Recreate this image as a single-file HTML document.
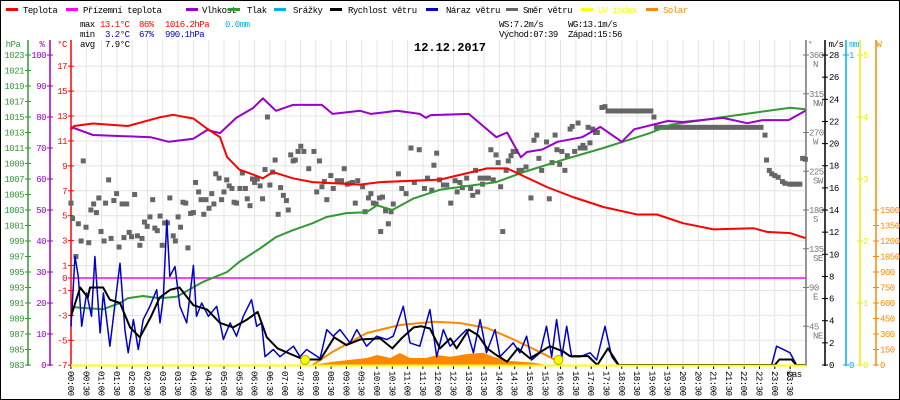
<!DOCTYPE html>
<html><head><meta charset="utf-8">
<style>
html,body{margin:0;padding:0;background:#fff}
svg{display:block}
text{font-family:"Liberation Mono",monospace;font-size:9px;letter-spacing:-0.5px}
</style></head>
<body>
<svg id="chart" width="900" height="400" viewBox="0 0 900 400" xmlns="http://www.w3.org/2000/svg">
<rect x="0.5" y="0.5" width="899" height="399" fill="#fff" stroke="#000"/>
<g id="grid"></g>
<g id="legend"></g>
<g>
<text x="80" y="27" fill="#000">max</text><text x="100" y="27" fill="#f00">13.1°C</text><text x="139" y="27" fill="#f00">86%</text><text x="165" y="27" fill="#f00">1016.2hPa</text><text x="225" y="27" fill="#00b0f0">0.0mm</text>
<text x="80" y="37" fill="#000">min</text><text x="105" y="37" fill="#00c">3.2°C</text><text x="139" y="37" fill="#00c">67%</text><text x="165" y="37" fill="#00c">990.1hPa</text>
<text x="80" y="47" fill="#000">avg</text><text x="105" y="47" fill="#000">7.9°C</text>
<text x="499" y="27" fill="#000">WS:7.2m/s</text><text x="568" y="27" fill="#000">WG:13.1m/s</text>
<text x="499" y="37" fill="#000">Východ:07:39</text><text x="568" y="37" fill="#000">Západ:15:56</text>
</g>
<text x="414" y="51" style="font-size:12px;font-weight:bold;letter-spacing:0">12.12.2017</text>
<g id="axes"></g>
<g id="series"></g>
</svg>
<script>
const NS="http://www.w3.org/2000/svg";
// ---- data ----
const tempT=[0,0.1,0.72,1.86,2.9,3.33,4.0,4.44,4.87,5.1,5.5,5.95,6.27,6.6,7.25,7.9,9.44,10.1,12.06,13.6,14.25,15.55,16.4,17.4,18.5,19.15,20,21,22.3,22.75,23.5,24];
const tempV=[11.9,12.2,12.4,12.2,12.9,13.1,12.8,12.0,11.3,9.7,8.7,8.3,8.0,8.5,8.0,7.7,7.5,7.7,7.9,8.8,8.8,7.3,6.5,5.7,5.1,5.1,4.4,3.9,4.0,3.7,3.6,3.2];
const groundT=[0,24];
const groundV=[0,0];
const humT=[0,0.72,2.6,3.2,4.0,4.45,4.87,5.4,5.95,6.27,6.7,7.25,8.2,8.55,9.45,9.8,10.65,11.4,11.6,11.75,13.0,13.9,14.25,14.7,14.9,15.4,15.9,16.7,17.3,18.0,18.4,19.5,20,21.3,22.1,22.6,23.45,24];
const humV=[76.8,74.2,73.5,72,73,75.8,74.8,79.7,82.9,86,82,83.9,83.9,81,82,81,82,81,79.7,80.6,81,73.5,75,67,68.7,69.5,72,73.5,76.8,72,76,78.7,78.4,79.7,78,79,79,82];
const presT=[0,0.3,1.05,1.6,1.85,2.35,2.9,3.45,4.3,5.1,5.5,6.2,6.7,7.25,7.9,8.35,9.0,9.65,10.0,10.5,11.2,12.05,13.9,14.8,16.1,17.4,18.9,19.6,21.5,23.5,24];
const presV=[990.5,990.4,990.2,991.0,991.6,991.9,991.6,991.8,993.7,995.0,996.3,998.1,999.5,1000.4,1001.3,1002.1,1002.6,1002.7,1003.6,1003.0,1004.5,1005.6,1006.6,1007.9,1009.5,1011.0,1012.9,1014.0,1015.1,1016.2,1016.0];
const windT=[0,0.3,0.55,0.62,1.05,1.27,1.6,1.93,2.25,2.6,2.9,3.25,3.55,3.8,4.0,4.45,4.87,5.3,5.75,6.1,6.4,6.75,7.25,7.6,8.15,8.6,9.0,9.45,10.1,10.5,10.8,11.2,11.45,11.73,12.06,12.4,12.6,13.0,13.3,13.6,13.9,14.25,14.6,15.0,15.65,16.1,16.3,16.9,17.2,17.55,17.9,23.0,23.15,23.55,23.7,24];
const windV=[4.4,7.0,6.1,7.0,7.0,5.9,5.6,3.4,2.5,4.3,6.1,6.8,7.0,6.1,5.4,5.0,3.8,3.4,4.1,4.8,2.5,1.5,0.9,0.5,0.5,2.5,1.8,2.3,2.4,1.5,2.4,3.4,3.5,3.3,1.5,2.4,1.5,3.2,2.7,1.5,0.9,0.3,1.5,0.6,1.7,1.2,0.8,0.8,0,1.5,0,0,0.5,0.5,0,0];
const gustT=[0,0.13,0.24,0.35,0.51,0.67,0.78,0.95,1.06,1.27,1.44,1.6,1.76,1.87,2.04,2.2,2.36,2.58,2.8,2.91,3.02,3.13,3.23,3.4,3.56,3.78,4.0,4.1,4.27,4.49,4.76,4.98,5.2,5.41,5.63,5.9,6.07,6.23,6.34,6.61,6.83,7.27,7.48,7.7,8.14,8.36,8.57,8.79,9.12,9.34,9.66,9.99,10.32,10.53,10.86,11.08,11.4,11.73,11.95,12.17,12.39,12.71,12.93,13.15,13.37,13.58,13.86,14.02,14.45,14.67,14.89,15.05,15.33,15.54,15.71,15.87,16.04,16.2,16.36,16.64,16.96,17.18,17.45,17.67,17.88,22.9,23.06,23.5,23.71,24];
const gustV=[3.5,9.8,8.0,3.5,6.5,4.4,9.8,2.9,6.5,1.7,5.6,9.2,3.2,1.1,4.1,1.4,4.1,5.3,6.8,3.8,6.2,13.1,8.0,8.9,5.3,3.8,9.0,4.4,5.6,4.4,5.3,2.3,3.8,2.6,4.4,5.9,3.5,3.8,0.75,1.4,0.75,1.7,0.75,1.4,0.6,3.2,2.6,3.2,2.0,3.2,1.7,2.6,2.3,2.6,5.3,2.0,1.7,5.0,0.75,3.2,1.7,2.6,3.2,1.1,4.1,1.1,3.2,0.75,2.0,1.1,2.6,0.45,1.1,3.5,0.75,4.1,0.75,3.5,0.75,0.75,1.1,0.45,3.5,0.75,0,0,1.7,1.1,0,0];
const dirT=[0,0.05,0.16,0.24,0.33,0.40,0.49,0.58,0.65,0.74,0.83,0.91,0.98,1.08,1.13,1.23,1.31,1.4,1.49,1.57,1.67,1.73,1.82,1.90,1.98,2.08,2.17,2.25,2.32,2.40,2.49,2.58,2.67,2.74,2.82,2.91,2.98,3.06,3.15,3.23,3.34,3.41,3.5,3.58,3.66,3.75,3.82,3.91,4.0,4.07,4.17,4.25,4.34,4.41,4.51,4.6,4.67,4.73,4.84,4.92,5.0,5.09,5.17,5.26,5.33,5.41,5.52,5.6,5.7,5.76,5.85,5.93,6.0,6.09,6.18,6.26,6.34,6.42,6.5,6.59,6.67,6.77,6.85,6.94,7.04,7.1,7.18,7.26,7.33,7.42,7.51,7.61,7.77,7.94,8.03,8.12,8.2,8.28,8.36,8.49,8.57,8.7,8.84,8.93,9.03,9.12,9.2,9.29,9.37,9.53,9.61,9.72,9.8,9.88,9.97,10.08,10.12,10.18,10.28,10.37,10.46,10.53,10.7,10.81,10.95,11.11,11.22,11.38,11.55,11.65,11.79,11.86,11.95,12.04,12.17,12.28,12.41,12.55,12.62,12.71,12.79,12.93,13.06,13.13,13.22,13.29,13.37,13.45,13.53,13.64,13.72,13.8,13.89,13.96,14.04,14.11,14.22,14.29,14.38,14.45,14.54,14.64,14.73,14.87,15.03,15.13,15.22,15.29,15.38,15.54,15.63,15.72,15.82,15.88,15.97,16.04,16.14,16.22,16.31,16.38,16.46,16.57,16.64,16.73,16.8,16.9,16.96,17.05,17.14,17.2,17.35,17.45,17.55,17.65,17.75,17.85,17.95,18.05,18.15,18.25,18.35,18.45,18.55,18.65,18.75,18.85,18.95,19.05,19.13,19.25,19.4,19.55,19.7,19.85,20.0,20.15,20.3,20.45,20.6,20.75,20.9,21.05,21.2,21.35,21.5,21.65,21.8,21.95,22.1,22.25,22.4,22.55,22.68,22.73,22.82,22.9,23.0,23.11,23.25,23.33,23.49,23.6,23.71,23.82,23.91,24.0];
const dirV=[188,170,126,164,144,237,160,142,180,187,177,194,155,144,188,215,147,191,199,137,187,148,187,154,149,198,150,139,147,166,161,172,192,159,156,173,139,165,165,194,150,144,172,160,189,188,136,176,177,212,201,192,175,192,182,199,187,222,217,192,201,215,208,205,189,188,205,223,205,193,185,216,212,216,208,193,227,288,209,224,238,175,206,197,191,180,244,237,238,248,254,248,228,248,201,237,207,213,192,220,205,214,214,228,210,211,212,188,214,207,178,194,199,188,187,194,155,195,179,164,178,187,222,205,199,252,212,250,205,217,203,232,246,215,209,209,188,214,201,212,206,217,205,197,226,201,217,210,217,217,250,215,244,235,207,155,226,237,243,248,248,226,226,230,194,261,267,240,226,259,193,235,267,250,233,248,226,243,274,277,248,281,252,255,252,276,258,274,270,270,299,300,295,295,295,295,295,295,295,295,295,295,295,295,295,295,295,288,276,276,276,276,276,276,276,276,276,276,276,276,276,276,276,276,276,276,276,276,276,276,276,276,267,238,226,222,220,218,213,211,210,210,210,210,240,239];
const solarT=[7.9,8.56,9.67,10.0,10.43,10.75,11.08,11.6,11.96,12.4,12.94,13.47,13.8,14.25,14.7,15.1,15.55];
const solarV=[0,32,68,97,68,116,68,68,97,80,106,119,80,42,32,23,0];
const clearT=[7.9,8.56,9.67,10.75,11.85,12.7,13.6,14.5,15.3,15.95,16.0];
const clearV=[0,129,310,387,419,406,358,242,129,30,0];
const sunEvents=[7.65,15.93];
const hpaTicks=[1023,1021,1019,1017,1015,1013,1011,1009,1007,1005,1003,1001,999,997,995,993,991,989,987,985,983];
const humTicks=[100,90,80,70,60,50,40,30,20,10,0];
const tempTicks=[17,15,13,11,9,7,5,3,1,0,-1,-3,-5,-7];
const dirTicks=[360,315,270,225,180,135,90,45];
const dirNames=["N","NW","W","SW","S","SE","E","NE"];
const msTicks=[28,26,24,22,20,18,16,14,12,10,8,6,4,2,0];
const uvTicks=[5,4,3,2,1,0];
const wTicks=[1500,1350,1200,1050,900,750,600,450,300,150,0];
// ---- scales ----
const X=t=>71+t*30.6;
const yT=v=>278-v*12.46;
const yP=v=>365-(v-983)*7.75;
const yH=v=>365-v*3.1;
const yW=v=>365-v*11.07;
const yD=v=>365-v*310/360;
const yS=v=>365-v*155/1500;
const yU=v=>365-v*62;
function mk(tag,attrs,parent,txt){const e=document.createElementNS(NS,tag);for(const k in attrs)e.setAttribute(k,attrs[k]);if(txt!==undefined)e.textContent=txt;parent.appendChild(e);return e;}
const grid=document.getElementById('grid'),axes=document.getElementById('axes'),ser=document.getElementById('series'),leg=document.getElementById('legend');
for(let i=0;i<=48;i++){const x=X(i/2);const l=mk('line',{x1:x,x2:x,y1:40,y2:365,stroke:'#e4e4e4','stroke-width':1},grid);

}
[17,15,13,11,9,7,5,3,1,-1,-3,-5].forEach(v=>{const l=mk('line',{x1:71,x2:806,y1:yT(v),y2:yT(v),stroke:'#e4e4e4','stroke-width':1},grid);

});
const legItems=[["Teplota","#f00",10,25],["Přízemní teplota","#f0f",70,85],["Vlhkost","#90c",190,204],["Tlak","#393",232,249],["Srážky","#00b0f0",278,295],["Rychlost větru","#000",334,350],["Náraz větru","#00c",430,448],["Směr větru","#666",510,525],["UV index","#ff0",585,600],["Solar","#f80",650,665]];
legItems.forEach(it=>{const g=mk('g',{},leg);


mk('rect',{x:it[2]-4,y:8,width:12,height:3,fill:it[1]},g);
const tc=(it[1]=="#ff0"||it[1]=="#f80")?it[1]:"#000";
mk('text',{x:it[3]-2,y:13,fill:tc},g,it[0]);});
function vaxis(name,x,color,ticks,yf,labX,anchor,y0,y1,unit,unitX){const g=mk('g',{},axes);


mk('line',{x1:x,x2:x,y1:y0,y2:y1,stroke:color,'stroke-width':1.5},g);
ticks.forEach(v=>{const y=yf(v);mk('line',{x1:x-3,x2:x+3,y1:y,y2:y,stroke:color},g);mk('text',{x:labX,y:y+3,fill:color,'text-anchor':anchor},g,String(v));});
mk('text',{x:unitX,y:47,fill:color,'text-anchor':'middle'},g,unit);return g;}
vaxis('hpa-axis',28,'#393',hpaTicks,yP,24,'end',40,366,'hPa',13);
vaxis('humidity-axis',50,'#90c',humTicks,yH,46,'end',40,366,'%',42);
vaxis('temp-axis',71,'#f00',tempTicks,yT,67,'end',40,366,'°C',62);
const gd=vaxis('direction-axis',806,'#777',[],yD,0,'start',40,366,'°',810);
dirTicks.forEach((v,i)=>{const y=yD(v);mk('line',{x1:803,x2:809,y1:y,y2:y,stroke:'#777'},gd);mk('text',{x:809,y:y+3,fill:'#777'},gd,String(v));mk('text',{x:813,y:y+12,fill:'#777'},gd,dirNames[i]);});
vaxis('wind-speed-axis',825,'#000',msTicks,yW,829,'start',40,366,'m/s',836);
vaxis('rain-axis',846,'#00b0f0',[],yW,0,'start',40,366,'mm',854);
const gr=axes.lastChild;[1,0].forEach(v=>{const y=v?55:365;mk('line',{x1:843,x2:849,y1:y,y2:y,stroke:'#00b0f0'},gr);mk('text',{x:849,y:y+3,fill:'#00b0f0'},gr,String(v));});
vaxis('uv-axis',860,'#ee0',uvTicks,yU,863,'start',40,366,'',860);
const gw=vaxis('solar-axis',876,'#f80',[],yS,0,'start',40,366,'W',879);
wTicks.forEach(v=>{const y=yS(v);mk('line',{x1:873,x2:879,y1:y,y2:y,stroke:'#f80'},gw);mk('text',{x:880,y:y+3,fill:'#f80'},gw,String(v));});
const gt=mk('g',{},axes);


mk('line',{x1:71,x2:806,y1:366,y2:366,stroke:'#000'},gt);
for(let i=0;i<48;i++){const x=X(i/2);const h=Math.floor(i/2),m=i%2?"30":"00";const lab=(h<10?"0":"")+h+":"+m;
mk('line',{x1:x,x2:x,y1:365,y2:369,stroke:'#000'},gt);
mk('text',{x:0,y:0,transform:`translate(${x-3},371) rotate(90)`,fill:'#000'},gt,lab);}
mk('text',{x:787,y:377,fill:'#000'},gt,'čas');
function line(name,ts,vs,yf,color,w){const d=ts.map((t,i)=>(i?'L':'M')+X(t).toFixed(1)+','+yf(vs[i]).toFixed(1)).join('');
const p=mk('path',{d:d,fill:'none',stroke:color,'stroke-width':w,'stroke-linejoin':'round'},ser);

return p;}
{const d='M'+X(solarT[0])+','+yS(0)+solarT.map((t,i)=>'L'+X(t).toFixed(1)+','+yS(solarV[i]).toFixed(1)).join('')+'L'+X(solarT[solarT.length-1])+','+yS(0)+'Z';
const p=mk('path',{d:d,fill:'#f80'},ser);

}
line('solar-clear-sky-line',clearT,clearV,yS,'#f80',2);
line('ground-temp-line',groundT,groundV,yT,'#f0f',1.5);
const gdir=mk('g',{},ser);


dirT.forEach((t,i)=>{const r=mk('rect',{x:X(t)-2.5,y:yD(dirV[i])-2.5,width:5,height:5,fill:'#666'},gdir);

});
line('pressure-line',presT,presV,yP,'#393',2);
line('humidity-line',humT,humV,yH,'#90c',2);
line('temperature-line',tempT,tempV,yT,'#f00',2);
line('gust-line',gustT,gustV,yW,'#00c',1.5);
line('wind-speed-line',windT,windV,yW,'#000',2);
{const l=mk('line',{x1:71,x2:806,y1:365.5,y2:365.5,stroke:'#ff0','stroke-width':2},ser);

}
sunEvents.forEach(t=>{const c=mk('circle',{cx:X(t),cy:360,r:4.5,fill:'#ff0',stroke:'#aa0'},ser);

});
</script>
</body></html>
